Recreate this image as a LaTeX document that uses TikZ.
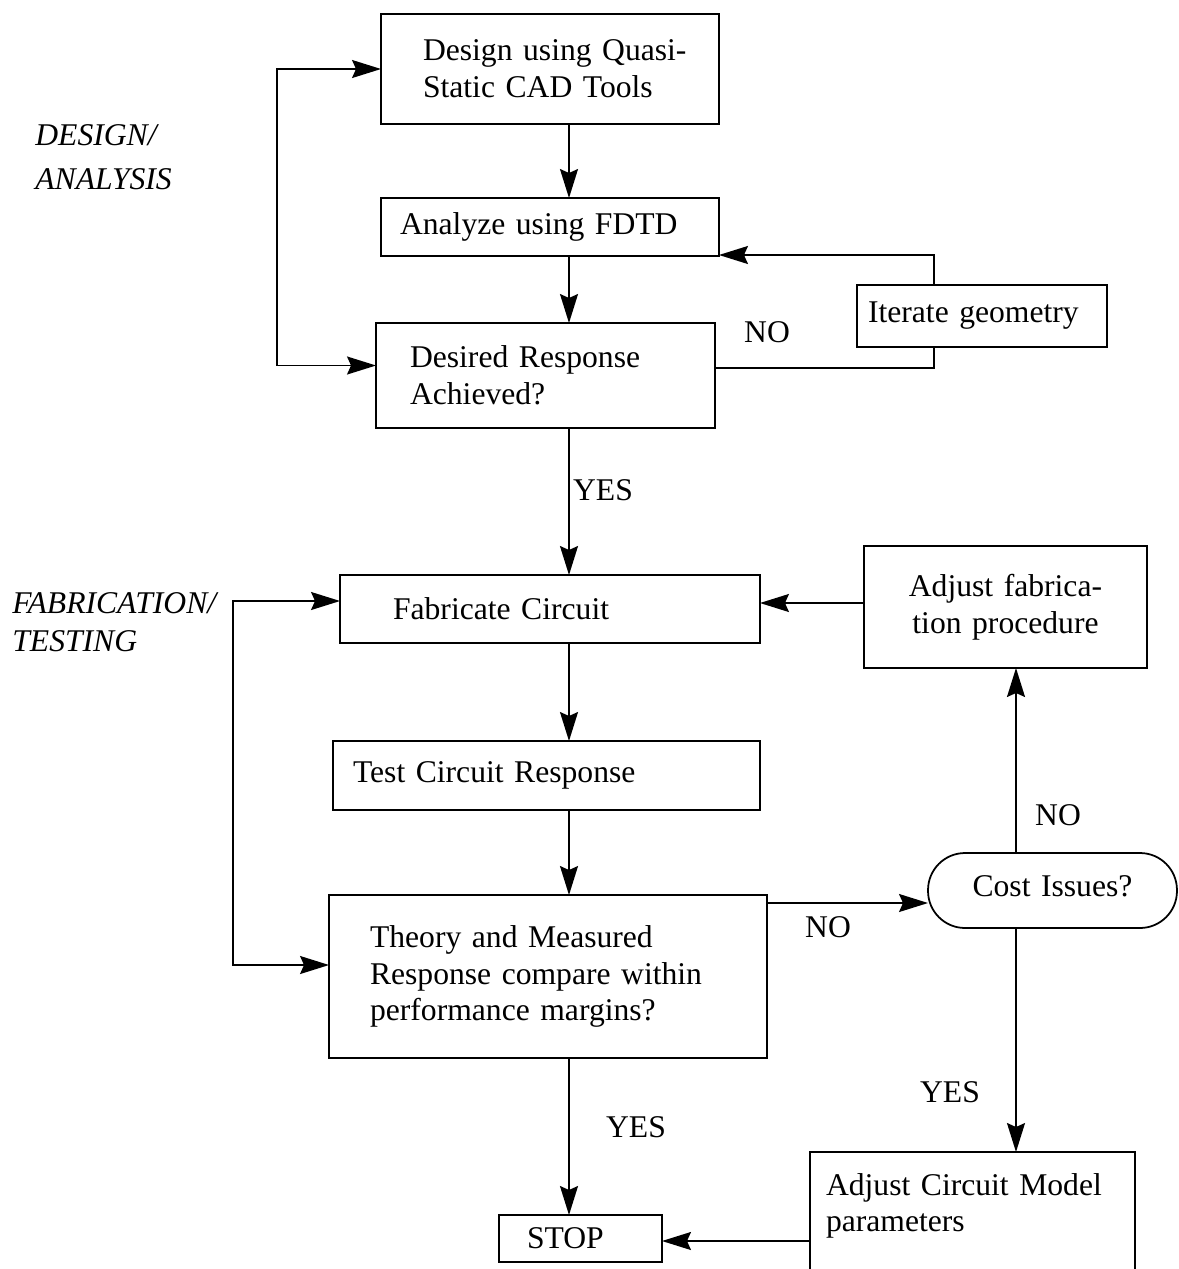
\documentclass[tikz,border=0pt]{standalone}
\usepackage{fontspec}
\setmainfont{Liberation Serif}
\usetikzlibrary{arrows.meta,calc}
\begin{document}
\begin{tikzpicture}[x=0.02cm,y=-0.02cm,
  font=\fontsize{18pt}{21pt}\selectfont,
  box/.style={draw, line width=1pt, outer sep=0pt, align=left, inner ysep=0pt},
  arr/.style={line width=1pt, -{Stealth[length=0.58cm,width=0.36cm,inset=0.08cm]}},
  darr/.style={line width=1pt, {Stealth[length=0.58cm,width=0.36cm,inset=0.08cm]}-{Stealth[length=0.58cm,width=0.36cm,inset=0.08cm]}},
  ln/.style={line width=1pt},
  lbl/.style={inner sep=0pt},
  side/.style={inner sep=0pt, anchor=base west, font=\fontsize{18pt}{21pt}\selectfont\itshape}]
\useasboundingbox (0,0) rectangle (1178,1269);
\clip (0,0) rectangle (1178,1269);

% boxes
\node[box, minimum width=6.76cm, minimum height=2.2cm, text width=5.08cm, inner xsep=0.84cm] (design) at (550,69) {\mbox{Design using Quasi-}\\\mbox{Static CAD Tools}};
\node[box, minimum width=6.76cm, minimum height=1.16cm, text width=6.0cm, inner xsep=0.38cm] (analyze) at (550,227) {Analyze using FDTD};
\node[box, minimum width=6.78cm, minimum height=2.1cm, text width=5.42cm, inner xsep=0.68cm] (desired) at (545.5,375.5) {Desired Response\\Achieved?};
\node[box, minimum width=5.0cm, minimum height=1.24cm, text width=4.56cm, inner xsep=0.22cm] (iterate) at (982,316) {Iterate geometry};
\node[box, minimum width=8.4cm, minimum height=1.36cm, text width=6.28cm, inner xsep=1.06cm] (fabricate) at (550,609) {Fabricate Circuit};
\node[box, align=center, minimum width=5.66cm, minimum height=2.44cm, text width=5.26cm, inner xsep=0.2cm] (adjfab) at (1005.5,607) {Adjust fabrica-\\tion procedure};
\node[box, minimum width=8.54cm, minimum height=1.38cm, text width=7.74cm, inner xsep=0.4cm] (test) at (546.5,775.5) {Test Circuit Response};
\node[box, minimum width=8.76cm, minimum height=3.26cm, text width=7.12cm, inner xsep=0.82cm] (theory) at (548,976.5) {\mbox{Theory and Measured}\\\mbox{Response compare within}\\\mbox{performance margins?}};
\node[box, align=center, rounded corners=0.74cm, minimum width=4.98cm, minimum height=1.5cm, text width=4.58cm, inner xsep=0.2cm] (cost) at (1052.5,890.5) {\raisebox{0.16cm}{Cost Issues?}};
\node[box, minimum width=6.5cm, minimum height=2.76cm, text width=5.86cm, inner xsep=0.32cm] (adjcirc) at (972.5,1221) {\mbox{Adjust Circuit Model}\\parameters\\\mbox{}};
\node[box, minimum width=3.26cm, minimum height=0.94cm, text width=2.14cm, inner xsep=0.56cm] (stop) at (580.5,1238.5) {STOP};

% side labels
\node[side] (da1) at (35,145) {DESIGN/};
\node[side] (da2) at (35,189) {ANALYSIS};
\node[side] (ft1) at (12,613) {FABRICATION/};
\node[side] (ft2) at (12,651) {TESTING};

% helper coordinates
\coordinate (c1) at (569,0);
\coordinate (L1) at (277,0);
\coordinate (L2) at (233,0);
\coordinate (R1) at (934,0);
\coordinate (R2) at (1016,0);
\coordinate (H1) at (0,903);
\coordinate (H2) at (0,603);
\coordinate (H3) at (0,1241);
\coordinate (dw) at ([yshift=0.2cm]desired.west);
\coordinate (tw) at ([yshift=0.23cm]theory.west);
\coordinate (fw) at ([yshift=0.16cm]fabricate.west);
\coordinate (de) at ([yshift=0.15cm]desired.east);
\coordinate (ase) at ([yshift=0.02cm]analyze.south east);

% main column
\draw[arr] (c1 |- design.south) -- (c1 |- analyze.north);
\draw[arr] (c1 |- analyze.south) -- (c1 |- desired.north);
\draw[arr] (c1 |- desired.south) -- (c1 |- fabricate.north);
\draw[arr] (c1 |- fabricate.south) -- (c1 |- test.north);
\draw[arr] (c1 |- test.south) -- (c1 |- theory.north);
\draw[arr] (c1 |- theory.south) -- (c1 |- stop.north);

% left loops
\draw[darr] (dw) -- (L1 |- dw) -- (L1 |- design.west) -- (design.west);
\draw[darr] (tw) -- (L2 |- tw) -- (L2 |- fw) -- (fw);

% iterate loop
\draw[ln] (de) -| (R1 |- iterate.south);
\draw[arr] (R1 |- iterate.north) |- (ase);

% right side
\draw[arr] (theory.east |- H1) -- (cost.west |- H1);
\draw[arr] (R2 |- cost.north) -- (R2 |- adjfab.south);
\draw[arr] (R2 |- cost.south) -- (R2 |- adjcirc.north);
\draw[arr] (adjfab.west |- H2) -- (fabricate.east |- H2);
\draw[arr] (adjcirc.west |- H3) -- (stop.east |- H3);

% labels
\node[lbl] (no1) at (767,332) {NO};
\node[lbl] (yes1) at (603,490) {YES};
\node[lbl] (no2) at (828,927) {NO};
\node[lbl] (no3) at (1058,815) {NO};
\node[lbl] (yes2) at (950,1092) {YES};
\node[lbl] (yes3) at (636,1127) {YES};
\end{tikzpicture}
\end{document}
